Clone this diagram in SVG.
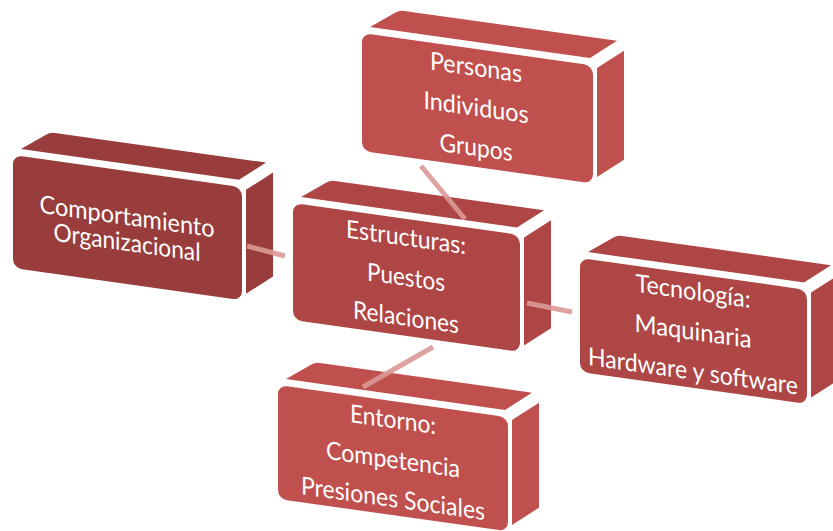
<svg xmlns="http://www.w3.org/2000/svg" width="833" height="531" viewBox="0 0 833 531">
<style>
  text { font-family: Lato, "Liberation Sans", sans-serif; font-size: 25px; fill: #ffffff; text-anchor: middle; }
  .conn { stroke: #DA9896; stroke-width: 5; fill: none; stroke-linecap: butt; opacity: 0.9; }
  .c1 { fill: #983C3C; }
  .c2 { fill: #AE4645; }
  .c3 { fill: #C0504D; }
  .c4 { fill: #AD4644; }
  .c5 { fill: #C0504D; }
</style>
<rect width="833" height="531" fill="#ffffff"/>

<g id="node-comportamiento" class="c1" transform="translate(13,155) skewY(8)">
  <path d="M8,-7 H226 L253,-28 H42 Q37,-28 33,-25 Z"/>
  <path d="M233,2 L260,-19 V85 L233,106 Z"/>
  <rect x="0" y="0" width="229" height="113" rx="9"/>
  <text x="114" y="54" textLength="175" lengthAdjust="spacingAndGlyphs">Comportamiento</text>
  <text x="114" y="80" textLength="147" lengthAdjust="spacingAndGlyphs">Organizacional</text>
</g>

<g id="node-estructuras" class="c2" transform="translate(293,203) skewY(8)">
  <path d="M8,-7 H224 L251,-28 H42 Q37,-28 33,-25 Z"/>
  <path d="M231,2 L258,-19 V89 L231,110 Z"/>
  <rect x="0" y="0" width="227" height="117" rx="9"/>
  <text x="113" y="27" textLength="120" lengthAdjust="spacingAndGlyphs">Estructuras:</text>
  <text x="113" y="67" textLength="78" lengthAdjust="spacingAndGlyphs">Puestos</text>
  <text x="113" y="107" textLength="106" lengthAdjust="spacingAndGlyphs">Relaciones</text>
</g>

<g id="node-personas" class="c3" transform="translate(362,33) skewY(8)">
  <path d="M8,-7 H228 L255,-28 H42 Q37,-28 33,-25 Z"/>
  <path d="M235,2 L262,-19 V90 L235,111 Z"/>
  <rect x="0" y="0" width="231" height="118" rx="9"/>
  <text x="114" y="27" textLength="92" lengthAdjust="spacingAndGlyphs">Personas</text>
  <text x="114" y="67" textLength="105" lengthAdjust="spacingAndGlyphs">Individuos</text>
  <text x="114" y="107" textLength="73" lengthAdjust="spacingAndGlyphs">Grupos</text>
</g>

<g id="node-tecnologia" class="c4" transform="translate(580,258) skewY(8)">
  <path d="M8,-7 H224 L251,-28 H42 Q37,-28 33,-25 Z"/>
  <path d="M231,2 L258,-19 V86 L231,107 Z"/>
  <rect x="0" y="0" width="227" height="114" rx="9"/>
  <text x="113" y="26" textLength="115" lengthAdjust="spacingAndGlyphs">Tecnología:</text>
  <text x="113" y="66" textLength="117" lengthAdjust="spacingAndGlyphs">Maquinaria</text>
  <text x="113" y="106" textLength="210" lengthAdjust="spacingAndGlyphs">Hardware y software</text>
</g>

<g id="node-entorno" class="c5" transform="translate(278,385) skewY(8)">
  <path d="M8,-7 H227 L254,-28 H42 Q37,-28 33,-25 Z"/>
  <path d="M234,2 L261,-19 V86 L234,107 Z"/>
  <rect x="0" y="0" width="230" height="114" rx="9"/>
  <text x="115" y="27" textLength="86" lengthAdjust="spacingAndGlyphs">Entorno:</text>
  <text x="115" y="67" textLength="134" lengthAdjust="spacingAndGlyphs">Competencia</text>
  <text x="115" y="106" textLength="184" lengthAdjust="spacingAndGlyphs">Presiones Sociales</text>
</g>

<g id="connectors">
  <line class="conn" x1="247" y1="246" x2="285" y2="256"/>
  <line class="conn" x1="421" y1="166" x2="465" y2="219"/>
  <line class="conn" x1="527" y1="303" x2="572" y2="312"/>
  <line class="conn" x1="433" y1="347" x2="363" y2="387"/>
</g>
</svg>
